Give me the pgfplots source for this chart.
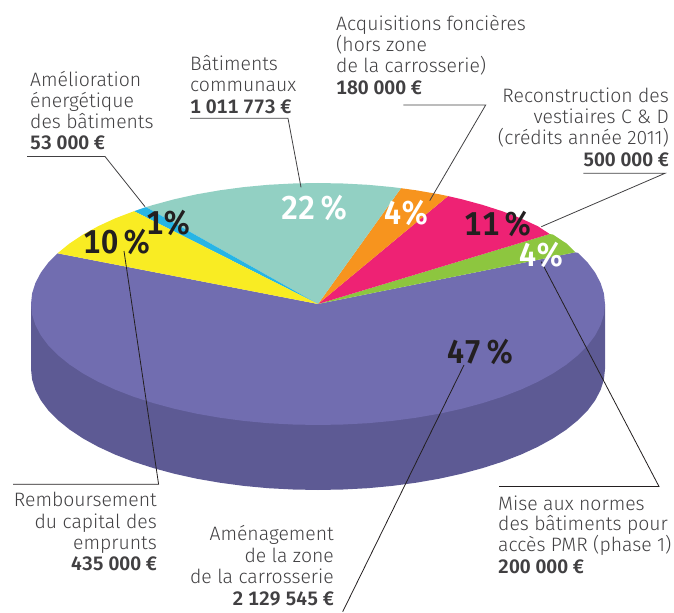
\documentclass[border=0pt]{standalone}
\usepackage{fontspec}
\usepackage{pgfplots}
\pgfplotsset{compat=1.18}
\setmainfont{Fira Sans}[UprightFont=* Light,BoldFont=* SemiBold,BoldFeatures={Numbers=Monospaced}]

\definecolor{side}{HTML}{5D5A94}
\definecolor{purple1}{HTML}{716DB0}
\definecolor{teal1}{HTML}{92D0C3}
\definecolor{orange1}{HTML}{F7941E}
\definecolor{pink1}{HTML}{EE2274}
\definecolor{green1}{HTML}{8DC63F}
\definecolor{yellow1}{HTML}{F9EC23}
\definecolor{blue1}{HTML}{27B5E5}
\definecolor{ink}{HTML}{231F20}
\definecolor{txt}{HTML}{414042}

% one line of a label: anchor, x, baseline y, text
\newcommand{\lab}[4]{\node[anchor=base #1,inner sep=0pt,text=txt,font=\fontsize{19.4}{22}\selectfont] at (axis cs:#2,#3) {#4};}
\newcommand{\pct}[4]{\node[anchor=base,inner sep=0pt,text=#3,font=\fontsize{33}{36}\selectfont\bfseries] at (axis cs:#1,#2) {\scalebox{.93}[1]{#4}};}

\begin{document}
\begin{tikzpicture}
\begin{axis}[
  scale only axis,
  width=674pt,
  height=612pt,
  xmin=0, xmax=674,
  ymin=0, ymax=612,
  y dir=reverse,
  hide axis,
  clip=false,
]
\path (axis cs:0,0) rectangle (axis cs:674,612);

% side of the disc
\addplot[fill=side,draw=none] coordinates {
  (605,304) (605,369) (603.9,379.6) (600.6,390) (595.2,400.3) (587.7,410.4) (578.1,420.1)
  (566.5,429.5) (553.1,438.4) (537.8,446.8) (520.9,454.6) (502.5,461.7) (482.6,468.1)
  (461.5,473.8) (439.3,478.7) (416.2,482.7) (392.3,485.9) (367.8,488.2) (343,489.5) (318,490)
  (293,489.5) (268.2,488.2) (243.7,485.9) (219.8,482.7) (196.7,478.7) (174.5,473.8)
  (153.4,468.1) (133.5,461.7) (115.1,454.6) (98.2,446.8) (82.9,438.4) (69.5,429.5)
  (57.9,420.1) (48.3,410.4) (40.8,400.3) (35.4,390) (32.1,379.6) (31,369) (31,304) (605,304)
};

% Aménagement, top face
\addplot[fill=purple1,draw=none] coordinates {
  (318,304) (57.5,253.3) (48.3,262.6) (40.8,272.7) (35.4,283) (32.1,293.4) (31,304)
  (32.1,314.6) (35.4,325) (40.8,335.3) (48.3,345.4) (57.9,355.1) (69.5,364.5) (82.9,373.4)
  (98.2,381.8) (115.1,389.6) (133.5,396.7) (153.4,403.1) (174.5,408.8) (196.7,413.7)
  (219.8,417.7) (243.7,420.9) (268.2,423.2) (293,424.5) (318,425) (343,424.5) (367.8,423.2)
  (392.3,420.9) (416.2,417.7) (439.3,413.7) (461.5,408.8) (482.6,403.1) (502.5,396.7)
  (520.9,389.6) (537.8,381.8) (553.1,373.4) (566.5,364.5) (578.1,355.1) (587.7,345.4)
  (595.2,335.3) (600.6,325) (603.9,314.6) (605,304) (603.9,293.4) (600.6,283) (595.2,272.7)
  (587.7,262.6) (578.1,252.9) (575.3,252.3) (318,304)
};
% Mise aux normes
\addplot[fill=green1,draw=none] coordinates {
  (318,304) (575.3,252.3) (566.5,243.5) (553.1,234.6) (549.7,234) (318,304)
};
% Reconstruction
\addplot[fill=pink1,draw=none] coordinates {
  (318,304) (549.7,234) (537.8,226.2) (520.9,218.4) (502.5,211.3) (482.6,204.9)
  (461.5,199.2) (448,196.1) (318,304)
};
% Acquisitions
\addplot[fill=orange1,draw=none] coordinates {
  (318,304) (448,196.1) (439.3,194.3) (416.2,190.3) (401,188.2) (318,304)
};
% Bâtiments communaux
\addplot[fill=teal1,draw=none] coordinates {
  (318,304) (401,188.2) (392.3,187.1) (367.8,184.8) (343,183.5) (318,183) (293,183.5)
  (268.2,184.8) (243.7,187.1) (219.8,190.3) (196.7,194.3) (174.5,199.2) (153.4,204.9)
  (146,207.1) (318,304)
};
% Amélioration énergétique
\addplot[fill=blue1,draw=none] coordinates {
  (318,304) (146,207.1) (134,211.2) (318,304)
};
% Remboursement
\addplot[fill=yellow1,draw=none] coordinates {
  (318,304) (134,211.2) (115.1,218.4) (98.2,226.2) (82.9,234.6) (69.5,243.5) (57.5,253.3) (318,304)
};

% leader lines
\addplot[txt,line width=.8pt] coordinates {(27,156.5) (105,156.5) (145,206.7)};
\addplot[txt,line width=.8pt] coordinates {(190,118.3) (288,118.3) (301,187.3)};
\addplot[txt,line width=.8pt] coordinates {(403.3,105) (485.7,105) (429.7,200.7)};
\addplot[txt,line width=.8pt] coordinates {(583.3,173.3) (665,173.3) (541.3,226.7)};
\addplot[ink,line width=.8pt] coordinates {(499,486.5) (659,486.5) (541.3,261.7)};
\addplot[ink,line width=.8pt] coordinates {(13,484.3) (158.6,484.3) (124,251)};
\addplot[ink,line width=.8pt] coordinates {(342.7,611.7) (464,365)};

% labels
\lab{west}{30}{86.7}{Amélioration}
\lab{west}{30}{107.5}{énergétique}
\lab{west}{30}{128.3}{des bâtiments}
\lab{west}{30}{149.7}{\textbf{53 000 €}}

\lab{west}{190}{70.7}{Bâtiments}
\lab{west}{190}{92}{communaux}
\lab{west}{190}{114}{\textbf{1 011 773 €}}

\lab{west}{336}{30.7}{Acquisitions foncières}
\lab{west}{336}{51.7}{(hors zone}
\lab{west}{336}{72.7}{de la carrosserie)}
\lab{west}{336}{94.3}{\textbf{180 000 €}}

\lab{east}{669}{102.7}{Reconstruction des}
\lab{east}{669}{123.3}{vestiaires C \& D}
\lab{east}{669}{144.3}{(crédits année 2011)}
\lab{east}{669}{166.3}{\textbf{500 000 €}}

\lab{west}{498}{510}{Mise aux normes}
\lab{west}{498}{530.7}{des bâtiments pour}
\lab{west}{498}{551.7}{accès PMR (phase 1)}
\lab{west}{498}{573.3}{\textbf{200 000 €}}

\lab{east}{157}{506.7}{Remboursement}
\lab{east}{157}{528.7}{du capital des}
\lab{east}{157}{549}{emprunts}
\lab{east}{157}{570.7}{\textbf{435 000 €}}

\lab{east}{334}{540.7}{Aménagement}
\lab{east}{334}{562.3}{de la zone}
\lab{east}{334}{583.3}{de la carrosserie}
\lab{east}{334}{605}{\textbf{2 129 545 €}}

% percentages
\pct{315}{219.3}{white}{22\,\%}
\pct{168.5}{234}{ink}{1\%}
\pct{117.5}{253}{ink}{10\,\%}
\pct{407}{224}{white}{4\%}
\pct{498.5}{235}{ink}{11\,\%}
\pct{542}{266}{white}{4\%}
\pct{481}{363}{ink}{47\,\%}
\end{axis}
\end{tikzpicture}
\end{document}
